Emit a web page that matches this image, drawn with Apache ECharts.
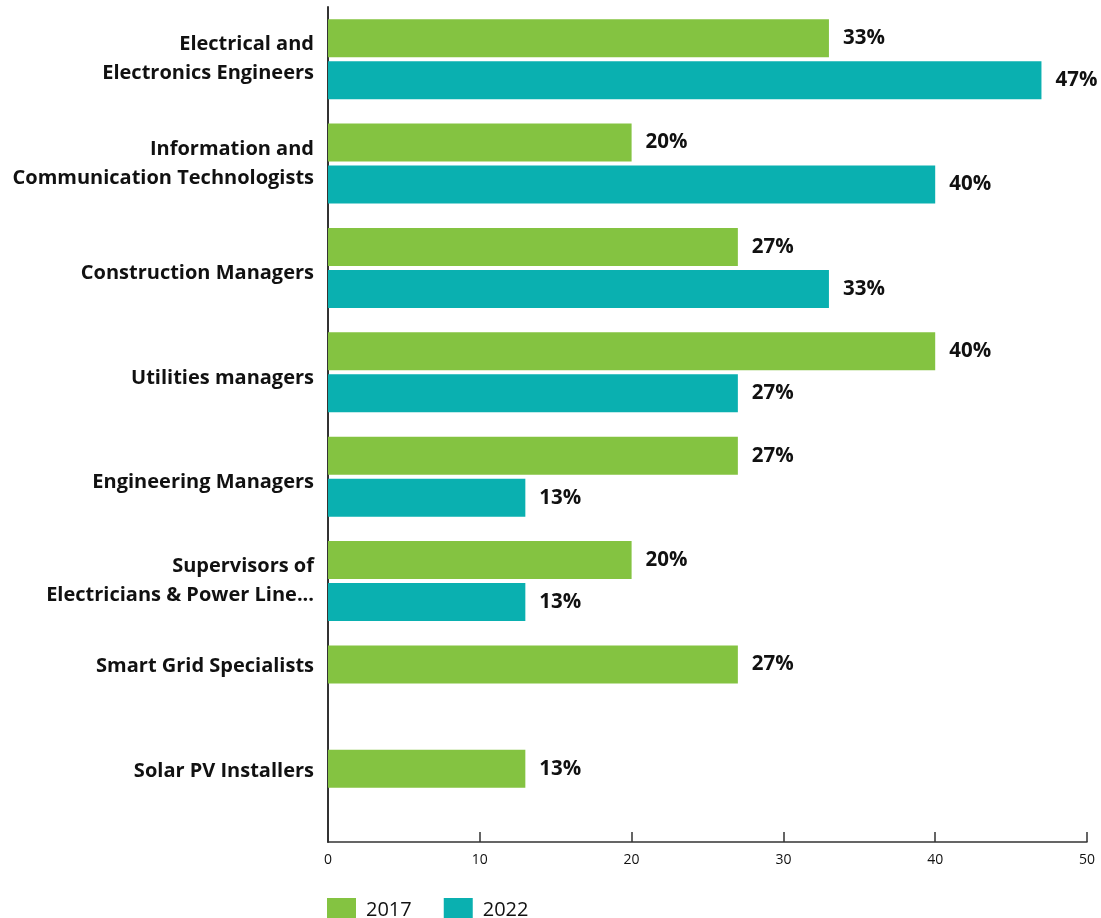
<!DOCTYPE html>
<html>
<head>
<meta charset="utf-8">
<title>Occupations in demand, 2017 vs 2022</title>
<script src="https://cdn.jsdelivr.net/npm/echarts@6/dist/echarts.min.js"></script>
<style>
  html, body { margin: 0; padding: 0; background: #ffffff; }
  #chart { width: 1101px; height: 918px; }
</style>
</head>
<body>
<div id="chart"></div>
<script>
// Occupations (top to bottom)
const categories = [
  'Electrical and\nElectronics Engineers',
  'Information and\nCommunication Technologists',
  'Construction Managers',
  'Utilities managers',
  'Engineering Managers',
  'Supervisors of\nElectricians & Power Line...',
  'Smart Grid Specialists',
  'Solar PV Installers'
];

// Share of respondents (%)
const values2017 = [33, 20, 27, 40, 27, 20, 27, 13];
const values2022 = [47, 40, 33, 27, 13, 13, null, null];

const seriesNames = ['2017', '2022'];
const xTicks = [0, 10, 20, 30, 40, 50];

const GREEN = '#84c341';
const TEAL = '#0ab0b0';
const INK = '#111111';
const FONT = '"Open Sans", Lato, sans-serif';

const BAR_W = 38;
const BAR_GAP = 4;

const chart = echarts.init(document.getElementById('chart'), null, { renderer: 'canvas' });

// Rows that only have a 2017 bar get their label lifted onto that bar
const singleRow = new Set(categories.filter((c, i) => values2022[i] == null));

const labelFont = { fontFamily: FONT, fontWeight: 'bold', fontSize: 20, lineHeight: 29, color: INK };

const valueLabel = {
  show: true,
  position: 'right',
  distance: 14,
  formatter: p => p.value + '%',
  fontFamily: FONT,
  fontWeight: 'bold',
  fontSize: 20.5,
  color: INK
};

chart.setOption({
  animation: false,
  backgroundColor: '#ffffff',
  textStyle: { fontFamily: FONT },
  grid: { left: 328, right: 14, top: 7, bottom: 76, containLabel: false },
  legend: {
    data: seriesNames,
    left: 322,
    top: 893,
    icon: 'rect',
    itemWidth: 29,
    itemHeight: 25,
    itemGap: 32,
    selectedMode: false,
    textStyle: { fontFamily: FONT, fontSize: 20, color: INK, padding: [0, 0, 0, 5] }
  },
  xAxis: {
    type: 'value',
    min: xTicks[0],
    max: xTicks[xTicks.length - 1],
    interval: 10,
    axisLine: { show: true, lineStyle: { color: '#333333', width: 1.5 } },
    axisTick: { show: true, inside: true, length: 10, lineStyle: { color: '#333333', width: 1.5 } },
    axisLabel: { fontFamily: FONT, fontSize: 14, color: INK, margin: 11 },
    splitLine: { show: false }
  },
  yAxis: {
    type: 'category',
    data: categories,
    inverse: true,
    axisLine: { show: true, lineStyle: { color: '#333333', width: 2 } },
    axisTick: { show: false },
    axisLabel: Object.assign({}, labelFont, {
      margin: 14,
      formatter: name => {
        if (singleRow.has(name)) return '{lift|' + name + '}';
        if (name.indexOf('\n') >= 0) return name.split('\n').map(s => '{two|' + s + '}').join('\n');
        return '{one|' + name + '}';
      },
      rich: {
        one: Object.assign({}, labelFont, { padding: [11, 0, 0, 0] }),
        two: Object.assign({}, labelFont),
        lift: Object.assign({}, labelFont, { padding: [0, 0, BAR_W + BAR_GAP - 4, 0] })
      }
    })
  },
  series: [
    {
      name: seriesNames[0],
      type: 'bar',
      data: values2017,
      barWidth: BAR_W,
      barGap: (BAR_GAP / BAR_W * 100).toFixed(1) + '%',
      itemStyle: { color: GREEN },
      label: valueLabel
    },
    {
      name: seriesNames[1],
      type: 'bar',
      data: values2022,
      barWidth: BAR_W,
      itemStyle: { color: TEAL },
      label: valueLabel
    }
  ]
});
</script>
</body>
</html>
